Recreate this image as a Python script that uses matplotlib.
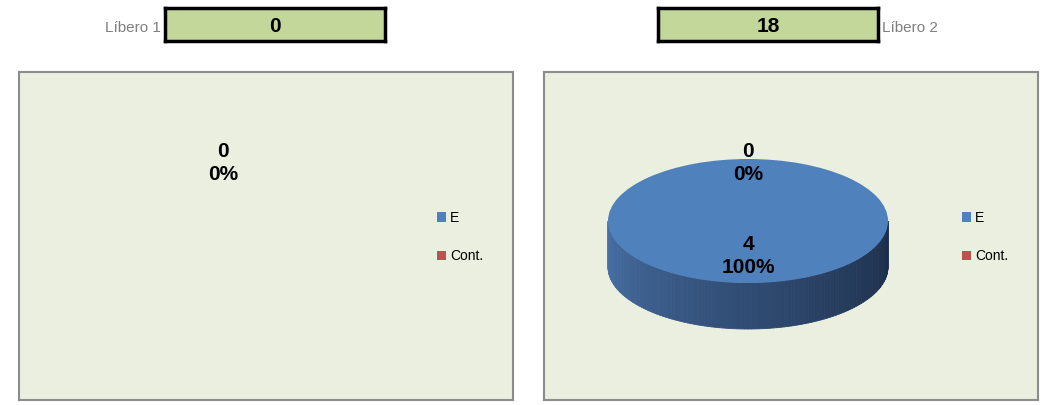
import numpy as np
import matplotlib
matplotlib.use("Agg")
import matplotlib.pyplot as plt
from matplotlib.patches import Patch
from matplotlib.colors import to_rgb

categories = ["E", "Cont."]
libero_names = ["Líbero 1", "Líbero 2"]
libero_totals = [0, 18]
libero1_values = [0, 0]
libero2_values = [4, 0]

colors = ["#4F81BD", "#C0504D"]
W, H = 1050, 405
plt.rcParams["font.family"] = ["Liberation Sans", "DejaVu Sans"]

fig = plt.figure(figsize=(W / 100, H / 100), dpi=100)
fig.patch.set_facecolor("white")


def rect(x0, y0, x1, y1):
    return [x0 / W, 1 - y1 / H, (x1 - x0) / W, (y1 - y0) / H]


# geometry of the pie inside a panel (panel-local pixels)
PW, PH = 494, 328
S = 62 / 140          # vertical squash of the ellipse
CX, CY = 204, 179     # centre of the top face, from panel bottom-left
RX = 140
DEPTH = 46


def side_colour(f):
    a = np.array(to_rgb("#4C76AE"))
    b = np.array(to_rgb("#1C2D48"))
    return tuple(a + (b - a) * f ** 0.8)


def draw_panel(ax, values):
    ax.set_facecolor("#EBEFDF")
    for sp in ax.spines.values():
        sp.set_color("#8C8C8C")
        sp.set_linewidth(1.5)

    cy = CY / S
    d = DEPTH / S
    total = sum(values)
    label_kw = dict(ha="center", va="center", fontsize=15, fontweight="bold",
                    linespacing=1.25, zorder=3)
    if total > 0:
        # side of the 3D pie
        t = np.linspace(np.pi, 2 * np.pi, 121)
        for i in range(len(t) - 1):
            tt = np.linspace(t[i], t[i + 1], 3)
            xs = CX + RX * np.cos(tt)
            ys = cy + RX * np.sin(tt)
            c = side_colour(i / (len(t) - 2))
            ax.fill(np.r_[xs, xs[::-1]], np.r_[ys, ys[::-1] - d],
                    color=c, lw=0.6, ec=c, zorder=1)
        wedges, _ = ax.pie(values, colors=colors, startangle=90,
                           center=(CX, cy), radius=RX, frame=True,
                           wedgeprops=dict(linewidth=0))
        for w in wedges:
            w.set_zorder(2)
        for w, v in zip(wedges, values):
            mid = np.deg2rad((w.theta1 + w.theta2) / 2)
            dist = 0.93 if v == 0 else 0.56
            ax.text(CX + RX * dist * np.cos(mid), cy + RX * dist * np.sin(mid),
                    f"{v}\n{v / total:.0%}", **label_kw)
    else:
        ax.text(CX, cy + RX * 0.93, f"{values[0]}\n0%", **label_kw)

    ax.set_xlim(0, PW)
    ax.set_ylim(0, PH / S)
    ax.set_aspect("auto")
    ax.set_xticks([])
    ax.set_yticks([])

    handles = [Patch(facecolor=c, edgecolor="none") for c in colors]
    ax.legend(handles, categories, loc="upper left",
              bbox_to_anchor=(418 / PW, 189 / PH), frameon=False,
              handlelength=0.65, handleheight=0.65, handletextpad=0.3,
              labelspacing=1.75, borderpad=0, borderaxespad=0, fontsize=10)


panels = [(19, 72, 513, 400), (544, 72, 1038, 400)]
for (x0, y0, x1, y1), vals in zip(panels, [libero1_values, libero2_values]):
    ax = fig.add_axes(rect(x0, y0, x1, y1))
    draw_panel(ax, vals)

# header boxes with totals
boxes = [(165, 8, 385, 41), (658, 8, 878, 41)]
for (x0, y0, x1, y1), total in zip(boxes, libero_totals):
    bx = fig.add_axes(rect(x0, y0, x1, y1))
    bx.set_facecolor("#C4D79B")
    bx.set_xticks([])
    bx.set_yticks([])
    for sp in bx.spines.values():
        sp.set_color("black")
        sp.set_linewidth(2.5)
    bx.text(0.5, 0.44, str(total), ha="center", va="center",
            fontsize=15, fontweight="bold", transform=bx.transAxes)

fig.text(161 / W, 1 - 28 / H, libero_names[0], ha="right", va="center",
         fontsize=11, color="#7F7F7F")
fig.text(882 / W, 1 - 28 / H, libero_names[1], ha="left", va="center",
         fontsize=11, color="#7F7F7F")

fig.savefig("out.png", dpi=100)
